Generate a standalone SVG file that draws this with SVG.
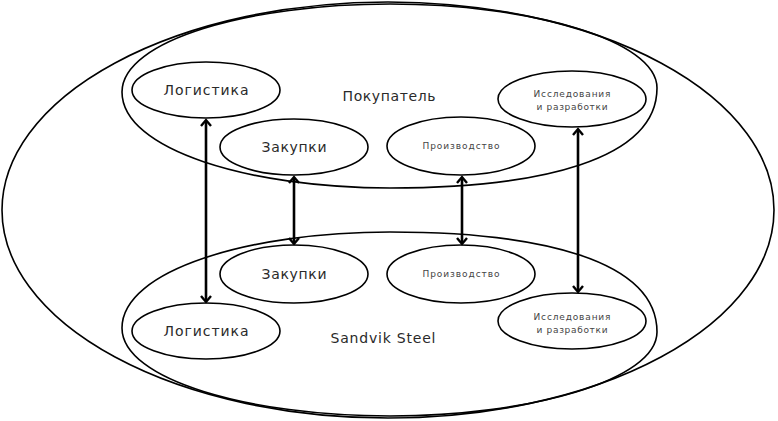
<svg xmlns="http://www.w3.org/2000/svg" width="778" height="421" viewBox="0 0 778 421">
<style>
.e{fill:none;stroke:#000;stroke-width:1.6}
.n{fill:#fff;stroke:#000;stroke-width:1.6}
.t{font-family:"DejaVu Sans","Liberation Sans",sans-serif;fill:#2a2a2a;text-anchor:middle}
.big{font-size:14px}
.sm{font-size:9px;fill:#444}
.c{stroke:#000;stroke-width:2.6;fill:none}
.h{fill:none;stroke:#000;stroke-width:2.4;stroke-linejoin:miter}
</style>
<rect width="778" height="421" fill="#fff"/>
<g id="outer"><ellipse class="e" cx="388" cy="210" rx="386" ry="208"/></g>
<g id="buyer">
<path class="e" d="M122,92 C122,40 250,4 390,4 C530,4 657,40 657,88 C657,160 540,188 390,188 C250,188 122,150 122,92 Z"/>
<text class="t big" x="389" y="101" textLength="93" lengthAdjust="spacing">Покупатель</text>
</g>
<g id="sandvik">
<path class="e" d="M122,328 C122,380 250,416 390,416 C530,416 657,380 657,332 C657,260 540,232 390,232 C250,232 122,270 122,328 Z"/>
<text class="t big" x="383" y="343" textLength="105" lengthAdjust="spacing">Sandvik Steel</text>
</g>
<g id="b-log"><ellipse class="n" cx="206" cy="90" rx="74" ry="28"/><text class="t big" x="206" y="95" textLength="85" lengthAdjust="spacing">Логистика</text></g>
<g id="b-zak"><ellipse class="n" cx="294" cy="147" rx="74" ry="28"/><text class="t big" x="294" y="152" textLength="65" lengthAdjust="spacing">Закупки</text></g>
<g id="b-pro"><ellipse class="n" cx="461" cy="146" rx="74" ry="29"/><text class="t sm" x="461" y="149" textLength="77" lengthAdjust="spacing">Производство</text></g>
<g id="b-rnd"><ellipse class="n" cx="572" cy="99" rx="74" ry="28"/><text class="t sm" x="572" y="97" textLength="77" lengthAdjust="spacing">Исследования</text><text class="t sm" x="572" y="110" textLength="71" lengthAdjust="spacing">и разработки</text></g>
<g id="s-zak"><ellipse class="n" cx="294" cy="274" rx="74" ry="29"/><text class="t big" x="294" y="279" textLength="65" lengthAdjust="spacing">Закупки</text></g>
<g id="s-log"><ellipse class="n" cx="206" cy="331" rx="74" ry="28"/><text class="t big" x="206" y="336" textLength="85" lengthAdjust="spacing">Логистика</text></g>
<g id="s-pro"><ellipse class="n" cx="461" cy="274" rx="74" ry="29"/><text class="t sm" x="461" y="277" textLength="77" lengthAdjust="spacing">Производство</text></g>
<g id="s-rnd"><ellipse class="n" cx="572" cy="321" rx="74" ry="28"/><text class="t sm" x="572" y="320" textLength="77" lengthAdjust="spacing">Исследования</text><text class="t sm" x="572" y="333" textLength="71" lengthAdjust="spacing">и разработки</text></g>
<g id="connectors">
<line class="c" x1="206" y1="121" x2="206" y2="300"/>
<polyline class="h" points="201,126 206,120 211,126"/>
<polyline class="h" points="201,296 206,302 211,296"/>
<line class="c" x1="294" y1="178" x2="294" y2="242"/>
<polyline class="h" points="289,183 294,177 299,183"/>
<polyline class="h" points="289,238 294,244 299,238"/>
<line class="c" x1="462" y1="178" x2="462" y2="242"/>
<polyline class="h" points="457,183 462,177 467,183"/>
<polyline class="h" points="457,238 462,244 467,238"/>
<line class="c" x1="578" y1="130" x2="578" y2="290"/>
<polyline class="h" points="573,135 578,129 583,135"/>
<polyline class="h" points="573,286 578,292 583,286"/>
</g>
</svg>
